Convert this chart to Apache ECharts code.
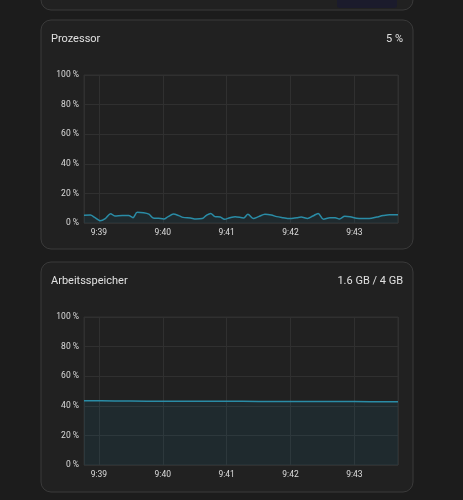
<!DOCTYPE html>
<html><head><meta charset="utf-8">
<script src="https://cdn.jsdelivr.net/npm/echarts@6/dist/echarts.min.js"></script>
<style>html,body{margin:0;padding:0;background:#1c1c1c;}#c{width:463px;height:500px;}</style>
</head><body><div id="c"></div>
<script>
// ---- data ----
const cpuTimes = ["9:38:46","9:38:52","9:38:56","9:39:01","9:39:06","9:39:11","9:39:15","9:39:22","9:39:28","9:39:32","9:39:36","9:39:42","9:39:47","9:39:51","9:39:56","9:40:01","9:40:05","9:40:10","9:40:15","9:40:19","9:40:26","9:40:31","9:40:37","9:40:41","9:40:45","9:40:49","9:40:54","9:40:58","9:41:03","9:41:08","9:41:16","9:41:20","9:41:25","9:41:30","9:41:36","9:41:42","9:41:47","9:41:53","9:41:59","9:42:06","9:42:10","9:42:16","9:42:21","9:42:26","9:42:31","9:42:37","9:42:42","9:42:46","9:42:51","9:42:56","9:43:02","9:43:08","9:43:14","9:43:21","9:43:27","9:43:33","9:43:39","9:43:41"];
const cpuValues = [5.2,5.4,3.8,1.6,3,6.3,4.7,5,5,3.6,7.2,7,6,3.4,3.2,2.7,4.3,6,5,3.8,3.4,2.7,3,5.2,6.5,4.3,4,2.5,3.6,4.3,3.4,5.9,3,4.3,5.9,5.4,4.3,3.6,3,3.6,4,3,4.7,6.5,2.5,3.6,3.6,2.7,4.5,4.3,3.2,3,3,4,5,5.6,5.6,5.6];
const memTimes = ["9:38:46","9:39:15","9:39:45","9:40:15","9:40:45","9:41:15","9:41:45","9:42:15","9:42:45","9:43:15","9:43:41"];
const memValues = [43.4,43.3,43.1,43.1,43.0,43.0,42.9,42.9,42.9,42.8,42.8];
const yTicks = [0,20,40,60,80,100];
const titles = ["Prozessor","Arbeitsspeicher"];
const valuesText = ["5 %","1.6 GB / 4 GB"];
const axisStart = "9:38:46", axisEnd = "9:43:41";

function toTime(s){const p=s.split(':').map(Number);return new Date(2024,0,1,p[0],p[1],p[2]||0).getTime();}
const cpuData = cpuTimes.map((t,i)=>[toTime(t),cpuValues[i]]);
const memData = memTimes.map((t,i)=>[toTime(t),memValues[i]]);

const FONT = "Roboto";
const lineColor = '#2a8ca6';
const gridColor = '#303030';
const chart = echarts.init(document.getElementById('c'));

function xAxis(idx){
  return {type:'time', gridIndex:idx, min:toTime(axisStart), max:toTime(axisEnd),
    minInterval:60000, maxInterval:60000,
    axisLine:{show:false}, axisTick:{show:false},
    splitLine:{show:true,lineStyle:{color:gridColor,width:1}},
    axisLabel:{color:'#dcdcdc',fontSize:8.5,fontFamily:FONT,margin:5,
      showMinLabel:false, showMaxLabel:false,
      formatter:v=>{const d=new Date(v);return d.getHours()+':'+String(d.getMinutes()).padStart(2,'0');}}};
}
function yAxis(idx){
  return {type:'value', gridIndex:idx, min:0, max:100, interval:20,
    axisLine:{show:false}, axisTick:{show:false},
    splitLine:{show:true,lineStyle:{color:gridColor,width:1}},
    axisLabel:{color:'#dcdcdc',fontSize:8.5,fontFamily:FONT,margin:5,formatter:v=>yTicks.includes(v)?v+' %':''}};
}
function series(idx,data){
  return {type:'line', xAxisIndex:idx, yAxisIndex:idx, data:data, showSymbol:false, symbol:'none',
    lineStyle:{color:lineColor,width:1.5}, smooth:0.3,
    areaStyle:{color:'rgba(20,110,140,0.18)'}, animation:false};
}
function card(y,h){
  return {type:'rect', shape:{x:41,y:y,width:372,height:h,r:10},
    style:{fill:'#212121',stroke:'#3a3a3a',lineWidth:1}, z:-10};
}
chart.setOption({
  backgroundColor:'#1c1c1c',
  animation:false,
  graphic:[
    card(-30,40),
    {type:'rect', shape:{x:337,y:-10,width:60,height:18,r:3}, style:{fill:'#1b1b2c'}, z:-9},
    card(20,229),
    card(262,230),
    {type:'text', left:51, top:34, style:{text:titles[0],fill:'#e0e0e0',font:'11px '+FONT}},
    {type:'text', right:60, top:34, style:{text:valuesText[0],fill:'#e0e0e0',font:'11px '+FONT,textAlign:'right'}},
    {type:'text', left:51, top:276, style:{text:titles[1],fill:'#e0e0e0',font:'11px '+FONT}},
    {type:'text', right:60, top:276, style:{text:valuesText[1],fill:'#e0e0e0',font:'11px '+FONT,textAlign:'right'}}
  ],
  grid:[
    {left:84, right:65, top:75, height:148, show:true, borderColor:gridColor, borderWidth:1},
    {left:84, right:65, top:317, height:148, show:true, borderColor:gridColor, borderWidth:1}
  ],
  xAxis:[xAxis(0),xAxis(1)],
  yAxis:[yAxis(0),yAxis(1)],
  series:[series(0,cpuData),series(1,memData)]
});
</script></body></html>
